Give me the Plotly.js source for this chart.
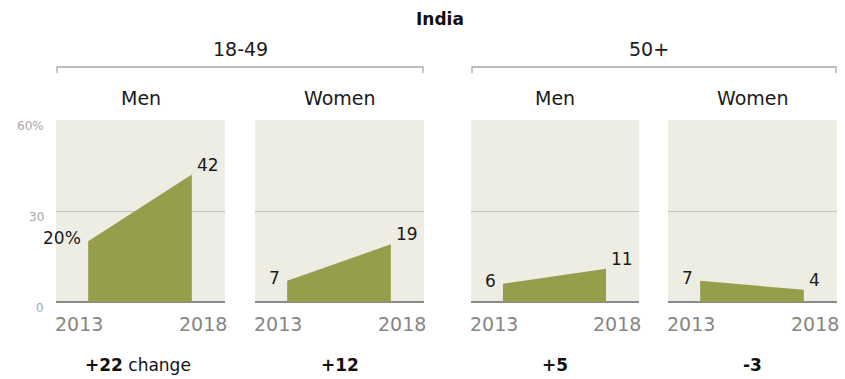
<!DOCTYPE html>
<html>
<head>
<meta charset="utf-8">
<script src="https://cdn.plot.ly/plotly-3.0.1.min.js"></script>
<style>html,body{margin:0;padding:0;background:#fff;}#chart{width:845px;height:379px;}</style>
</head>
<body>
<div id="chart"></div>
<script>
// ---- data ----
const chartTitle = 'India';
const ageGroups = ['18-49', '50+'];
const panelGroup = [0, 0, 1, 1];
const panelLabels = ['Men', 'Women', 'Men', 'Women'];
const years = [2013, 2018];
const values2013 = [20, 7, 6, 7];
const values2018 = [42, 19, 11, 4];
const yTickVals = [0, 30, 60];
const yTickText = ['0', '30', '60%'];

// ---- layout helpers (pixel -> paper) ----
const W = 845, H = 379;
const px = x => x / W;
const py = y => 1 - y / H;
const FONT = 'DejaVu Sans';
const panelPx = [[56, 225], [255, 424], [471, 639], [668, 837]];
const yDom = [py(302), py(120)];
const xRange = [2011.45, 2019.6];
const yRange = [0, 60];
const fillColor = '#969e4b';
const bgColor = '#eeede4';

const traces = [];
const layout = {
  width: W, height: H,
  margin: {l: 0, r: 0, t: 0, b: 0},
  paper_bgcolor: '#ffffff',
  plot_bgcolor: bgColor,
  showlegend: false,
  font: {family: FONT, color: '#222'},
  annotations: [],
  shapes: []
};

panelLabels.forEach((lab, i) => {
  const n = i === 0 ? '' : String(i + 1);
  const xa = 'xaxis' + n, ya = 'yaxis' + n;
  const xr = 'x' + n, yr = 'y' + n;
  layout[xa] = {
    domain: [px(panelPx[i][0]), px(panelPx[i][1])],
    range: xRange, showgrid: false, zeroline: false,
    showticklabels: false, ticks: '', fixedrange: true, anchor: yr
  };
  layout[ya] = {
    domain: yDom, range: yRange,
    tickvals: [30], showticklabels: false, ticks: '',
    showgrid: true, gridcolor: '#c4c4be', gridwidth: 1,
    zeroline: true, zerolinecolor: '#8a8a8a', zerolinewidth: 2,
    fixedrange: true, anchor: xr
  };
  const vals = [values2013[i], values2018[i]];
  traces.push({
    type: 'scatter', x: years, y: vals, xaxis: xr, yaxis: yr,
    mode: 'lines', line: {width: 0, color: fillColor},
    fill: 'tozeroy', fillcolor: fillColor, hoverinfo: 'skip'
  });
  // value labels
  layout.annotations.push({
    xref: xr, yref: yr, x: years[0], y: vals[0],
    text: i === 0 ? vals[0] + '%' : String(vals[0]),
    showarrow: false, xanchor: 'right', yanchor: 'middle',
    xshift: -5, yshift: 3, font: {size: 17, color: '#1a1a1a', family: FONT}
  });
  layout.annotations.push({
    xref: xr, yref: yr, x: years[1], y: vals[1],
    text: String(vals[1]),
    showarrow: false, xanchor: 'left', yanchor: 'middle',
    xshift: 3, yshift: 10, font: {size: 17, color: '#1a1a1a', family: FONT}
  });
  // year labels
  layout.annotations.push({
    xref: 'paper', yref: 'paper', x: px(panelPx[i][0]), y: py(324),
    text: String(years[0]), showarrow: false, xanchor: 'left', yanchor: 'middle',
    xshift: -3, font: {size: 19, color: '#858585', family: FONT}
  });
  layout.annotations.push({
    xref: 'paper', yref: 'paper', x: px(panelPx[i][1]), y: py(324),
    text: String(years[1]), showarrow: false, xanchor: 'right', yanchor: 'middle',
    xshift: 4, font: {size: 19, color: '#858585', family: FONT}
  });
  // panel header
  const cx = (panelPx[i][0] + panelPx[i][1]) / 2;
  layout.annotations.push({
    xref: 'paper', yref: 'paper', x: px(cx), y: py(98),
    text: lab, showarrow: false, xanchor: 'center', yanchor: 'middle',
    font: {size: 19, color: '#1a1a1a', family: FONT}
  });
  // change label
  const d = values2018[i] - values2013[i];
  const dTxt = (d > 0 ? '+' : '') + d;
  layout.annotations.push({
    xref: 'paper', yref: 'paper', x: px(cx), y: py(365),
    text: '<b>' + dTxt + '</b>' + (i === 0 ? ' change' : ''),
    showarrow: false, xanchor: 'center', yanchor: 'middle',
    xshift: i === 0 ? -3 : 0,
    font: {size: 17, color: '#111', family: FONT}
  });
});

// y tick labels (first panel only)
yTickVals.forEach((v, k) => {
  layout.annotations.push({
    xref: 'paper', yref: 'y', x: px(46), y: v,
    text: yTickText[k], showarrow: false, xanchor: 'right', yanchor: 'middle',
    yshift: -6, font: {size: 12, color: '#a5a5a5', family: FONT}
  });
});

// age group headers and brackets
ageGroups.forEach((g, k) => {
  const idx = panelGroup.map((p, j) => p === k ? j : -1).filter(j => j >= 0);
  const x0 = panelPx[idx[0]][0] + 1, x1 = panelPx[idx[idx.length - 1]][1] - 1;
  layout.annotations.push({
    xref: 'paper', yref: 'paper', x: px((x0 + x1) / 2 - (k === 1 ? 5 : 0)), y: py(49),
    text: g, showarrow: false, xanchor: 'center', yanchor: 'middle',
    font: {size: 19, color: '#1a1a1a', family: FONT}
  });
  layout.shapes.push({
    type: 'path', xref: 'paper', yref: 'paper',
    path: `M ${px(x0)} ${py(73)} L ${px(x0)} ${py(67)} L ${px(x1)} ${py(67)} L ${px(x1)} ${py(73)}`,
    line: {color: '#a8a8a8', width: 1.3}
  });
});

// title
layout.annotations.push({
  xref: 'paper', yref: 'paper', x: px(440), y: py(19),
  text: '<b>' + chartTitle + '</b>', showarrow: false, xanchor: 'center', yanchor: 'middle',
  font: {size: 17, color: '#111', family: FONT}
});

Plotly.newPlot('chart', traces, layout, {displayModeBar: false, staticPlot: true});
</script>
</body>
</html>
